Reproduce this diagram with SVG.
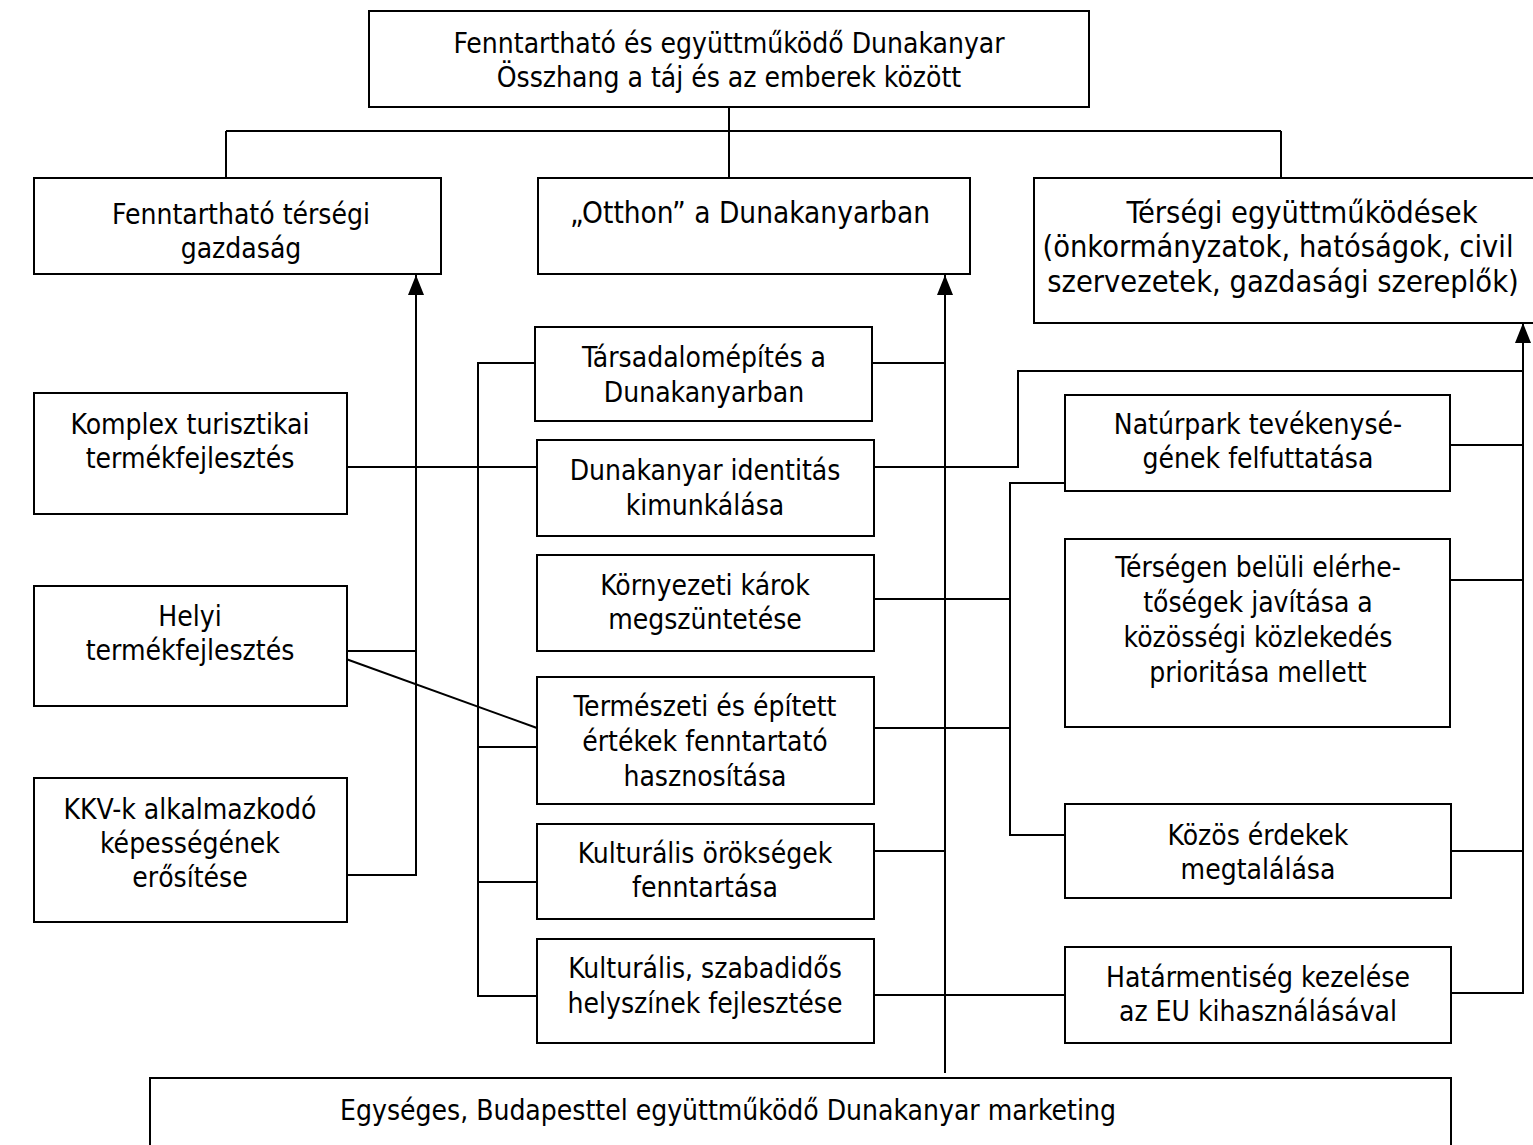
<svg xmlns="http://www.w3.org/2000/svg" width="1533" height="1145" viewBox="0 0 1533 1145">
<style>
.box{fill:#fff;stroke:#000;stroke-width:2}
.t{font-family:"DejaVu Sans Condensed","DejaVu Sans",sans-serif;font-stretch:condensed;font-size:28px;fill:#000;text-anchor:middle}
.big{font-size:30.5px}
.mid{font-size:29.5px}
.c{fill:none;stroke:#000;stroke-width:2}
</style>
<defs>
<marker id="arr" viewBox="0 0 20 16" refX="20" refY="8" markerWidth="20" markerHeight="16" orient="auto" markerUnits="userSpaceOnUse">
<path d="M0,0 L20,8 L0,16 z" fill="#000"/>
</marker>
</defs>
<rect width="1533" height="1145" fill="#fff"/>
<g id="connectors">
<path class="c" d="M729,107 V131 M226,131 H1281 M226,131 V178 M729,131 V178 M1281,131 V178"/>
<path class="c" d="M346,875 H416 V275" marker-end="url(#arr)"/>
<path class="c" d="M346,651 H416"/>
<path class="c" d="M346,467 H537"/>
<path class="c" d="M346,659 L537,728"/>
<path class="c" d="M535,363 H478 V996 H537 M478,747 H537 M478,882 H537"/>
<path class="c" d="M945,1073 V275" marker-end="url(#arr)"/>
<path class="c" d="M872,363 H945 M874,851 H945"/>
<path class="c" d="M874,467 H1018 V371 H1523"/>
<path class="c" d="M874,599 H1010 M874,728 H1010"/>
<path class="c" d="M1066,483 H1010 V835 H1065"/>
<path class="c" d="M874,995 H1065"/>
<path class="c" d="M1451,993 H1523 V323" marker-end="url(#arr)"/>
<path class="c" d="M1450,445 H1523 M1450,580 H1523 M1451,851 H1523"/>
</g>
<g id="n_top"><rect class="box" x="369" y="11" width="720" height="96"/>
<text class="t" x="729" y="53">Fenntartható és együttműködő Dunakanyar</text>
<text class="t" x="729" y="87">Összhang a táj és az emberek között</text></g>
<g id="n_gazdasag"><rect class="box" x="34" y="178" width="407" height="96"/>
<text class="t" x="241" y="224">Fenntartható térségi</text>
<text class="t" x="241" y="258">gazdaság</text></g>
<g id="n_otthon"><rect class="box" x="538" y="178" width="432" height="96"/>
<text class="t mid" x="750" y="223">„Otthon” a Dunakanyarban</text></g>
<g id="n_tersegi"><rect class="box" x="1034" y="178" width="520" height="145"/>
<text class="t big" x="1302" y="223">Térségi együttműködések</text>
<text class="t big" x="1278" y="257">(önkormányzatok, hatóságok, civil</text>
<text class="t big" x="1283" y="292">szervezetek, gazdasági szereplők)</text></g>
<g id="n_komplex"><rect class="box" x="34" y="393" width="313" height="121"/>
<text class="t" x="190" y="434">Komplex turisztikai</text>
<text class="t" x="190" y="468">termékfejlesztés</text></g>
<g id="n_helyi"><rect class="box" x="34" y="586" width="313" height="120"/>
<text class="t" x="190" y="626">Helyi</text>
<text class="t" x="190" y="660">termékfejlesztés</text></g>
<g id="n_kkv"><rect class="box" x="34" y="778" width="313" height="144"/>
<text class="t" x="190" y="819">KKV-k alkalmazkodó</text>
<text class="t" x="190" y="853">képességének</text>
<text class="t" x="190" y="887">erősítése</text></g>
<g id="n_tarsadalom"><rect class="box" x="535" y="327" width="337" height="94"/>
<text class="t" x="704" y="367">Társadalomépítés a</text>
<text class="t" x="704" y="402">Dunakanyarban</text></g>
<g id="n_identitas"><rect class="box" x="537" y="440" width="337" height="96"/>
<text class="t" x="705" y="480">Dunakanyar identitás</text>
<text class="t" x="705" y="515">kimunkálása</text></g>
<g id="n_kornyezeti"><rect class="box" x="537" y="555" width="337" height="96"/>
<text class="t" x="705" y="595">Környezeti károk</text>
<text class="t" x="705" y="629">megszüntetése</text></g>
<g id="n_termeszeti"><rect class="box" x="537" y="677" width="337" height="127"/>
<text class="t" x="705" y="716">Természeti és épített</text>
<text class="t" x="705" y="751">értékek fenntartató</text>
<text class="t" x="705" y="786">hasznosítása</text></g>
<g id="n_orokseg"><rect class="box" x="537" y="824" width="337" height="95"/>
<text class="t" x="705" y="863">Kulturális örökségek</text>
<text class="t" x="705" y="897">fenntartása</text></g>
<g id="n_szabadidos"><rect class="box" x="537" y="939" width="337" height="104"/>
<text class="t" x="705" y="978">Kulturális, szabadidős</text>
<text class="t" x="705" y="1013">helyszínek fejlesztése</text></g>
<g id="n_naturpark"><rect class="box" x="1065" y="395" width="385" height="96"/>
<text class="t" x="1258" y="434">Natúrpark tevékenysé-</text>
<text class="t" x="1258" y="468">gének felfuttatása</text></g>
<g id="n_tersegen"><rect class="box" x="1065" y="539" width="385" height="188"/>
<text class="t" x="1258" y="577">Térségen belüli elérhe-</text>
<text class="t" x="1258" y="612">tőségek javítása a</text>
<text class="t" x="1258" y="647">közösségi közlekedés</text>
<text class="t" x="1258" y="682">prioritása mellett</text></g>
<g id="n_kozos"><rect class="box" x="1065" y="804" width="386" height="94"/>
<text class="t" x="1258" y="845">Közös érdekek</text>
<text class="t" x="1258" y="879">megtalálása</text></g>
<g id="n_hatar"><rect class="box" x="1065" y="947" width="386" height="96"/>
<text class="t" x="1258" y="987">Határmentiség kezelése</text>
<text class="t" x="1258" y="1021">az EU kihasználásával</text></g>
<g id="n_marketing"><rect class="box" x="150" y="1078" width="1301" height="80"/>
<text class="t" x="728" y="1120">Egységes, Budapesttel együttműködő Dunakanyar marketing</text></g>
</svg>
